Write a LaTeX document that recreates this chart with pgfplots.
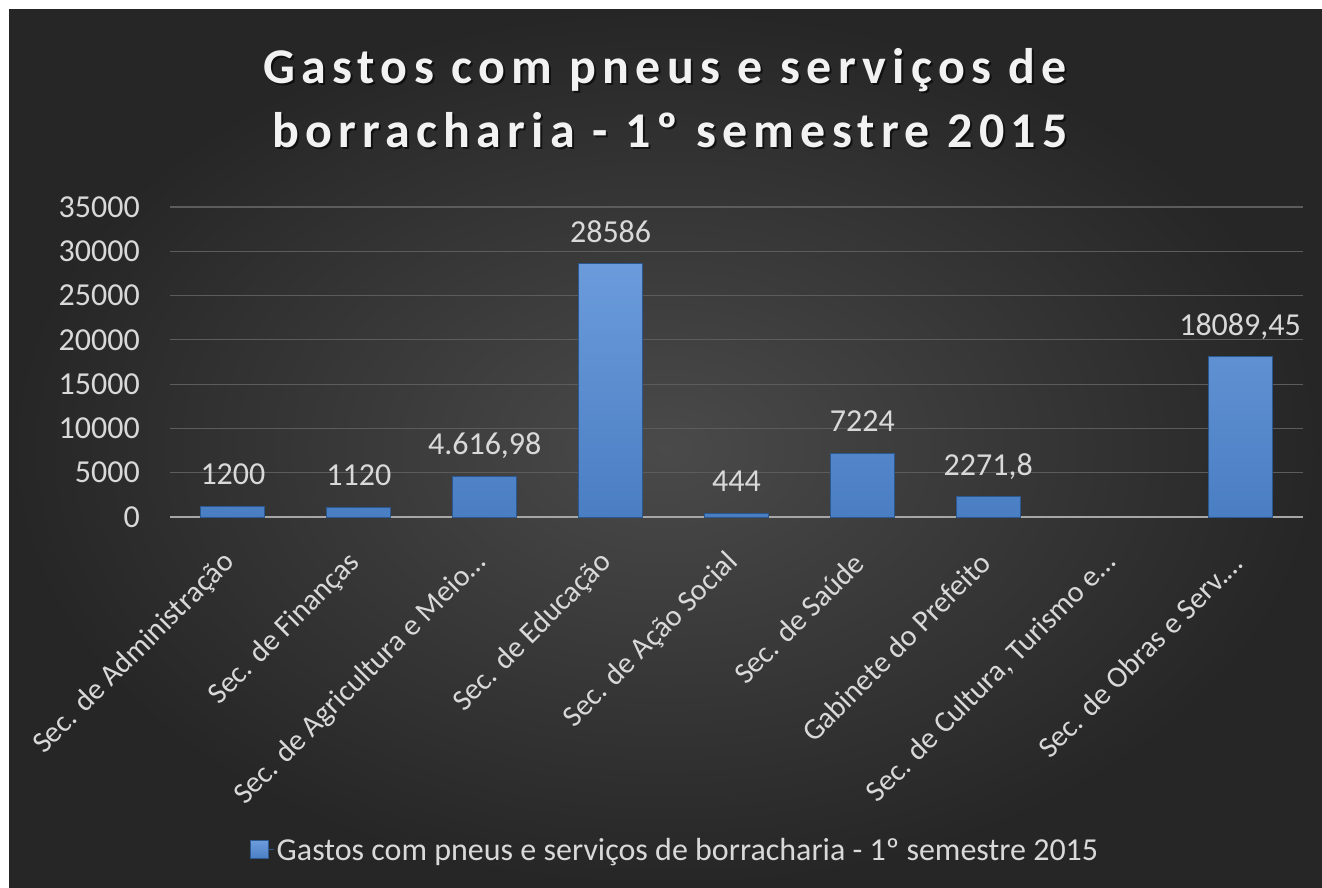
\documentclass[border=0pt]{standalone}
\usepackage{pgfplots}
\pgfplotsset{compat=1.18}
\usepackage{fontspec}
\setmainfont{Carlito}
\newfontfamily\titlefam[LetterSpace=12.5]{Carlito}
\definecolor{bgin}{HTML}{4A4A4A}
\definecolor{bgout}{HTML}{262626}
\definecolor{labelgray}{HTML}{D9D9D9}
\definecolor{gridgray}{HTML}{5C5C5C}
\definecolor{axisgray}{HTML}{A6A6A6}
\definecolor{bartop}{HTML}{6B9BDB}
\definecolor{barbot}{HTML}{4A7EC3}
\definecolor{baredge}{HTML}{2C5890}
\definecolor{barmid}{HTML}{5A8CCF}
\newcommand\axfont{\fontsize{32}{38}\selectfont}
\newcommand\catfont{\fontsize{30}{36}\selectfont}
\newcommand\titlefont{\titlefam\fontsize{50}{60}\selectfont\bfseries}
\begin{document}
\begin{tikzpicture}[x=1pt,y=1pt]
\useasboundingbox (0,0) rectangle (1322,887);
\fill[white] (0,0) rectangle (1322,887);
\shade[inner color=bgin, outer color=bgout] (9,0) rectangle (1322,877);
% title with shadow
\node[anchor=base, text=black, opacity=0.6, font=\titlefont] at (667,801) {Gastos com pneus e serviços de};
\node[anchor=base, text=black, opacity=0.6, font=\titlefont] at (672,737) {borracharia - 1º semestre 2015};
\node[anchor=base, text=white!95!black, font=\titlefont] at (665,803) {Gastos com pneus e serviços de};
\node[anchor=base, text=white!95!black, font=\titlefont] at (670,739) {borracharia - 1º semestre 2015};
\begin{axis}[
  at={(170pt,370pt)}, anchor=south west,
  scale only axis, width=1133pt, height=310pt,
  xmin=-0.5, xmax=8.5, ymin=0, ymax=35000,
  ybar, bar width=64pt,
  axis x line=bottom, axis y line=left,
  x axis line style={-, draw=axisgray, line width=2.5pt},
  y axis line style={draw=none},
  major tick length=0pt,
  scaled y ticks=false,
  ytick={0,5000,10000,15000,20000,25000,30000,35000},
  yticklabels={0,5000,10000,15000,20000,25000,30000,35000},
  yticklabel style={font=\axfont, text=labelgray, inner sep=0pt, xshift=-30pt},
  ymajorgrids, grid style={draw=gridgray, line width=1.2pt},
  xtick={0,1,2,3,4,5,6,7,8},
  xticklabels={Sec. de Administração, Sec. de Finanças, Sec. de Agricultura e Meio…, Sec. de Educação, Sec. de Ação Social, Sec. de Saúde, Gabinete do Prefeito, {Sec. de Cultura, Turismo e…}, Sec. de Obras e Serv.…},
  xticklabel style={font=\catfont, text=labelgray, xshift=-3pt, yshift=-41pt, rotate=45, anchor=east, inner sep=0pt},
  nodes near coords,
  point meta=explicit symbolic,
  nodes near coords style={font=\axfont, text=labelgray, anchor=south, inner sep=0pt, text depth=0pt, yshift=21pt},
  legend style={draw=none, fill=none, text=labelgray, font=\axfont, at={(0.4457,-1.074)}, anchor=center},
  legend image code/.code={\path (0pt,0pt) -- (24pt,0pt); \fill[barmid, draw=baredge] (0pt,-9pt) rectangle (18pt,9pt);},
  clip=false,
]
\addplot[draw=baredge, line width=1pt, top color=bartop, bottom color=barbot] table[meta=label] {
x y label
0 1200 1200
1 1120 1120
2 4616.98 4.616,98
3 28586 28586
4 444 444
5 7224 7224
6 2271.8 2271,8
8 18089.45 18089,45
};
\addlegendentry{Gastos com pneus e serviços de borracharia - 1º semestre 2015}
\end{axis}
\end{tikzpicture}
\end{document}
